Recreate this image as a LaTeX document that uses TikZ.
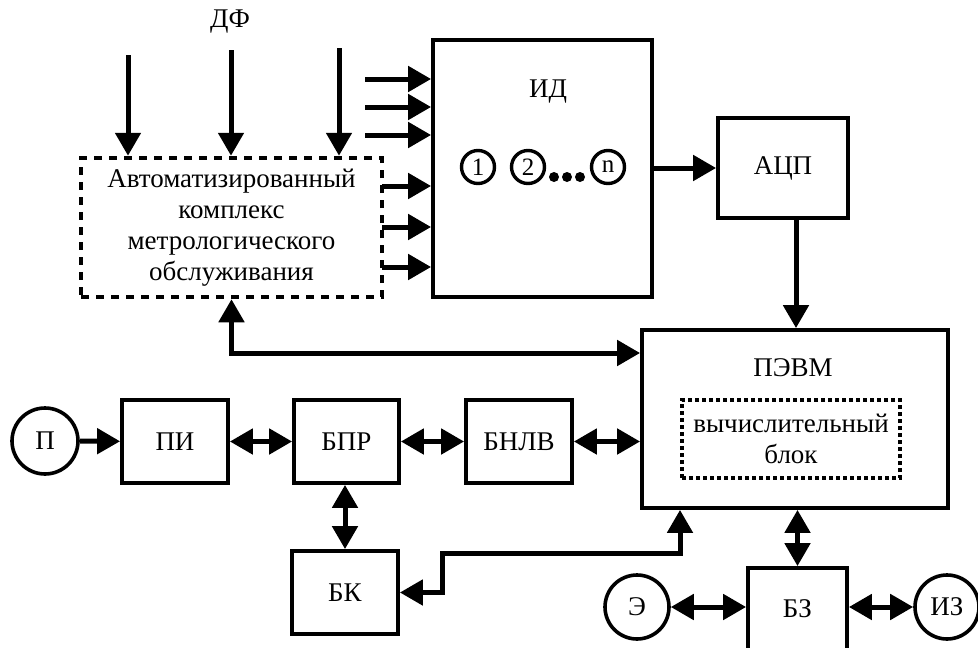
\documentclass[tikz,border=0pt]{standalone}
\usepackage{fontspec}
\setmainfont{Liberation Serif}
\usetikzlibrary{arrows.meta}
\begin{document}
\begin{tikzpicture}[x=1pt,y=-1pt,
  box/.style={draw, line width=3.8pt, rectangle, inner sep=0pt, font=\fontsize{27}{31}\selectfont, align=center},
  dashbox/.style={box, dash pattern=on 8pt off 7pt, line width=4.5pt},
  dotbox/.style={box, dash pattern=on 4pt off 3pt, line width=4pt},
  circ/.style={draw, circle, line width=3.6pt, inner sep=0pt, font=\fontsize{27}{31}\selectfont},
  num/.style={draw, circle, line width=3.4pt, inner sep=0pt, minimum size=33pt, font=\fontsize{25}{25}\selectfont},
  dotf/.style={fill, circle, inner sep=0pt, minimum size=10pt},
  lbl/.style={font=\fontsize{27}{31}\selectfont, inner sep=0pt},
  conn/.style={line width=5pt, -{Triangle[length=23pt,width=25pt]}},
  bi/.style={line width=5pt, {Triangle[length=23pt,width=25pt]}-{Triangle[length=23pt,width=25pt]}}]
\useasboundingbox (0,0) rectangle (978,648);

% nodes
\node[lbl] (df) at (230,22) {ДФ};
\node[dashbox, minimum width=301pt, minimum height=139pt] (akmo) at (231.5,227.5)
  {Автоматизированный\\комплекс\\метрологического\\обслуживания};
\node[box, minimum width=219pt, minimum height=257pt] (id) at (542.5,168.5) {};
\node[lbl] (idl) at (548,92) {ИД};
\node[num] (n1) at (478,167) {1};
\node[num] (n2) at (528,167) {2};
\node[num] (nn) at (608,167) {n};
\node[dotf] (d1) at (554,177) {};
\node[dotf] (d2) at (567,177) {};
\node[dotf] (d3) at (580,177) {};
\node[box, minimum width=130pt, minimum height=100pt] (adc) at (783,168) {АЦП};
\node[box, minimum width=306pt, minimum height=178pt] (pevm) at (795,419) {};
\node[lbl] (pevml) at (793,368) {ПЭВМ};
\node[dotbox, minimum width=218pt, minimum height=78pt] (vb) at (791,439) {вычислительный\\блок};
\node[circ, minimum size=66pt] (p) at (45,441) {П};
\node[box, minimum width=106pt, minimum height=83pt] (pi) at (175,441.5) {ПИ};
\node[box, minimum width=105pt, minimum height=83pt] (bpr) at (346.5,441.5) {БПР};
\node[box, minimum width=106pt, minimum height=83pt] (bnlv) at (519,441.5) {БНЛВ};
\node[box, minimum width=106pt, minimum height=83pt] (bk) at (345,592.5) {БК};
\node[circ, minimum size=64pt] (e) at (637,607) {Э};
\node[box, minimum width=99pt, minimum height=82pt] (bz) at (797.5,609) {БЗ};
\node[circ, minimum size=64pt] (iz) at (947,607) {ИЗ};

% free ends
\coordinate (t1) at (128,55);
\coordinate (t2) at (231,50);
\coordinate (t3) at (339,48);
\coordinate (i1) at (365,79);
\coordinate (i2) at (365,107);
\coordinate (i3) at (365,135);
\coordinate (r1) at (382,186);
\coordinate (r2) at (382,227);
\coordinate (r3) at (382,267);
\coordinate (k1) at (442,553);

% connectors
\draw[conn] (t1) -- (t1 |- akmo.north);
\draw[conn] (t2) -- (t2 |- akmo.north);
\draw[conn] (t3) -- (t3 |- akmo.north);
\draw[conn] (i1) -- (i1 -| id.west);
\draw[conn] (i2) -- (i2 -| id.west);
\draw[conn] (i3) -- (i3 -| id.west);
\draw[conn] (r1) -- (r1 -| id.west);
\draw[conn] (r2) -- (r2 -| id.west);
\draw[conn] (r3) -- (r3 -| id.west);
\draw[conn] (id.east |- adc.west) -- (adc.west);
\draw[conn] ([xshift=13pt]adc.south) -- ([xshift=13pt]adc.south |- pevm.north);
\draw[bi] (akmo.south) |- ([yshift=66pt]pevm.west);
\draw[conn] (p) -- (pi);
\draw[bi] (pi) -- (bpr);
\draw[bi] (bpr) -- (bnlv);
\draw[bi] (bnlv.east) -- (bnlv.east -| pevm.west);
\draw[bi] (bpr.south -| bk.north) -- (bk.north);
\draw[bi] (bk.east) -- (k1 |- bk.east) -- (k1) -| ([xshift=-115pt]pevm.south);
\draw[bi] (bz.north |- pevm.south) -- (bz.north);
\draw[bi] (e.east) -- (e.east -| bz.west);
\draw[bi] (bz.east |- iz.west) -- (iz.west);
\end{tikzpicture}
\end{document}
